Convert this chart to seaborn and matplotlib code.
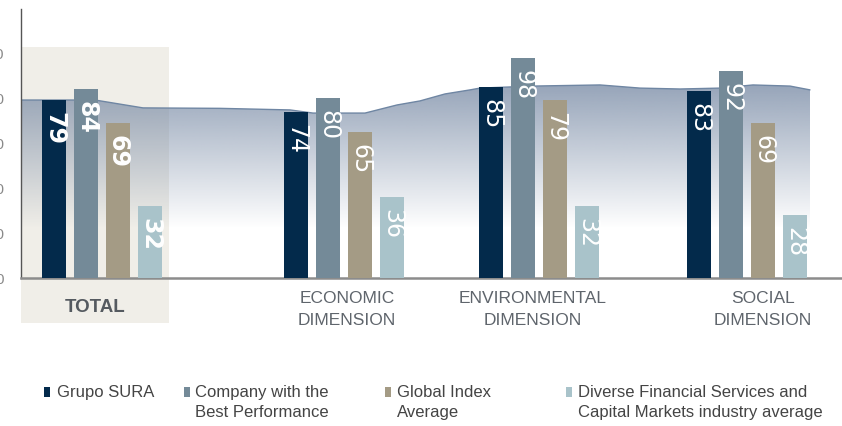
import numpy as np
import pandas as pd
import seaborn as sns
import matplotlib
matplotlib.use('Agg')
import matplotlib.pyplot as plt
from matplotlib.patches import Rectangle

# data
groups = ['TOTAL', 'ECONOMIC\nDIMENSION', 'ENVIRONMENTAL\nDIMENSION', 'SOCIAL\nDIMENSION']
series = ['Grupo SURA', 'Company with the\nBest Performance', 'Global Index\nAverage',
          'Diverse Financial Services and\nCapital Markets industry average']
sura = [79, 74, 85, 83]
best = [84, 80, 98, 92]
global_avg = [69, 65, 79, 69]
diverse = [32, 36, 32, 28]
colors = ['#032a4b', '#748a98', '#a49b85', '#a9c3ca']

# uneven spacing of the groups along the axis
group_x = [102, 344, 539, 747]
label_x = [95, 347, 533, 763]

# decorative background band
band_x = [21, 95, 143, 220, 290, 313, 365, 397, 420, 445, 470, 480, 533, 600, 640, 680, 720, 753, 790, 810]
band_y = [79.1, 79.1, 75.6, 75.4, 74.7, 73.3, 73.3, 76.9, 78.7, 81.8, 83.6, 84.4, 85.3, 85.8, 84.4, 84.0, 84.4, 85.8, 85.3, 83.6]

rows = []
for i, gx in enumerate(group_x):
    for s, vals in zip(series, [sura, best, global_avg, diverse]):
        rows.append({'x': gx, 'series': s, 'value': vals[i]})
df = pd.DataFrame(rows)

sns.set_theme(style='white')
plt.rcParams['font.family'] = ['Liberation Sans', 'DejaVu Sans']
narrow = ['Liberation Sans Narrow', 'DejaVu Sans']

fig = plt.figure(figsize=(8.42, 4.27), dpi=100)
ax = fig.add_axes([21 / 842, (427 - 279) / 427, 1 - 21 / 842, (279 - 10) / 427])

sns.barplot(data=df, x='x', y='value', hue='series', hue_order=series, palette=colors,
            native_scale=True, dodge=True, width=0.6564, gap=0.28, saturation=1,
            legend=False, ax=ax, zorder=3, linewidth=0, edgecolor='none')

# TOTAL highlight box
ax.add_patch(Rectangle((21, -20), 148, 122.7, facecolor='#f0eee8', edgecolor='none',
                       zorder=0.1, clip_on=False))

# gradient band
poly = ax.fill_between(band_x, band_y, 0, color='none', zorder=0.5)
ny = 256
alpha = np.clip((np.linspace(0, 90, ny) - 22) / (88 - 22), 0, 1) * 0.8
grad = np.zeros((ny, 2, 4))
grad[:, :, 0] = 120 / 255
grad[:, :, 1] = 138 / 255
grad[:, :, 2] = 165 / 255
grad[:, :, 3] = alpha[:, None]
img = ax.imshow(grad, extent=[21, 810, 0, 90], origin='lower', aspect='auto', zorder=0.5)
img.set_clip_path(poly.get_paths()[0], transform=ax.transData)
ax.plot(band_x, band_y, color='#6f86a3', lw=1, zorder=0.6)
ax.set_xlim(21, 842)
ax.set_ylim(0, (279 - 10) / 2.25)

# value labels inside bars
for cont in ax.containers:
    for j, (bar, v) in enumerate(zip(cont.patches, cont.datavalues)):
        ax.annotate(f'{v:.0f}', (bar.get_x() + bar.get_width() / 2, bar.get_height()),
                    xytext=(0, -8), textcoords='offset points', rotation=-90,
                    ha='center', va='top', color='white', fontsize=17,
                    fontweight='bold' if j == 0 else 'normal', family=narrow, zorder=4)

# axes styling
ax.set_xlabel('')
ax.set_ylabel('')
ax.set_xticks([])
ax.set_yticks([0, 20, 40, 60, 80, 100])
ax.set_yticklabels(['0', '20', '40', '60', '80', '100'])
ax.tick_params(axis='y', length=0, pad=12, labelsize=11, labelcolor='#8a8a8a')
for s in ['top', 'right']:
    ax.spines[s].set_visible(False)
ax.spines['left'].set_color('#555555')
ax.spines['left'].set_linewidth(1)
ax.spines['bottom'].set_color('#8c8c8c')
ax.spines['bottom'].set_linewidth(1.8)

# group labels
for i, (g, lx) in enumerate(zip(groups, label_x)):
    if i == 0:
        ax.text(lx, -12.5, g, ha='center', va='center', fontsize=13.5, fontweight='bold',
                color='#555a60')
    else:
        ax.text(lx, -5.3, g, ha='center', va='top', fontsize=12.5, color='#5f656c',
                linespacing=1.55)

# legend
leg_sq = [44, 184, 385, 566]
leg_tx = [57, 195, 397, 578]
for s, c, sx, tx in zip(series, colors, leg_sq, leg_tx):
    fig.patches.append(Rectangle((sx / 842, 1 - 398 / 427), 6 / 842, 10 / 427,
                                 facecolor=c, edgecolor='none', transform=fig.transFigure))
    fig.text(tx / 842, 1 - 385 / 427, s, ha='left', va='top', fontsize=12, color='#444444',
             linespacing=1.4)

fig.savefig('out.png', dpi=100)
